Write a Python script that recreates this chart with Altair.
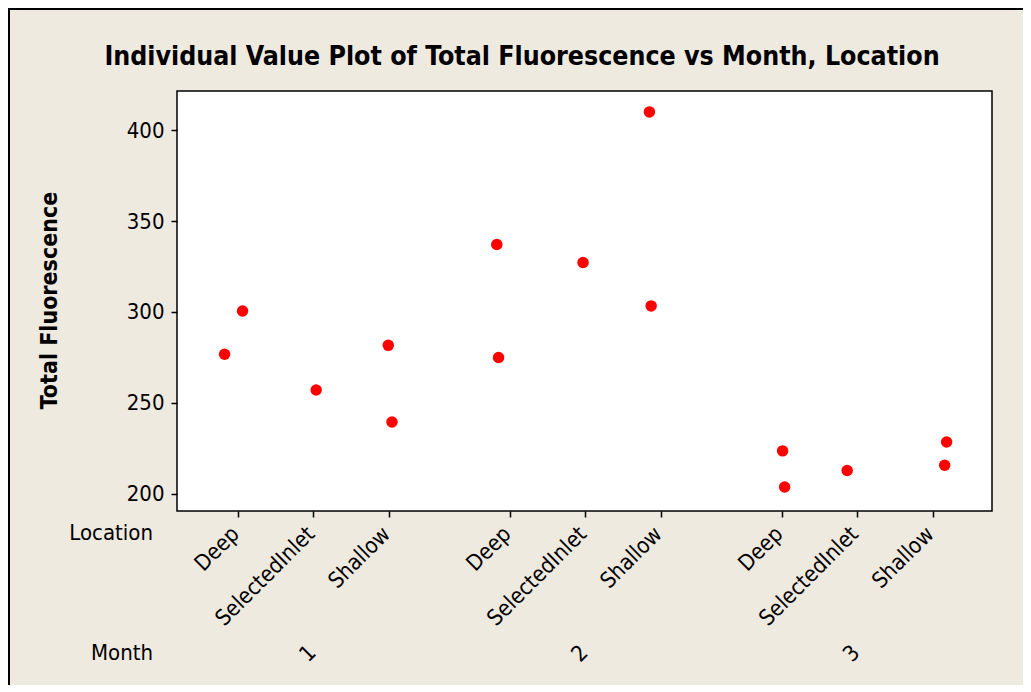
import altair as alt
import pandas as pd

# ---- data ----
months = [1, 2, 3]
locations = ["Deep", "SelectedInlet", "Shallow"]
obs_month = [1, 1, 1, 1, 1, 2, 2, 2, 2, 2, 3, 3, 3, 3, 3]
obs_location = ["Deep", "Deep", "SelectedInlet", "Shallow", "Shallow",
                "Deep", "Deep", "SelectedInlet", "Shallow", "Shallow",
                "Deep", "Deep", "SelectedInlet", "Shallow", "Shallow"]
fluorescence = [276.7, 300.5, 257.0, 281.6, 239.4,
                337.1, 274.9, 327.2, 410.1, 303.3,
                223.5, 203.6, 212.7, 228.4, 215.6]
# horizontal jitter of each point (in category-slot units), as seen in the plot
jitter = [-0.177, 0.061, 0.036, -0.009, 0.040,
          -0.172, -0.149, -0.030, -0.151, -0.128,
          0.013, 0.040, -0.132, 0.185, 0.159]
y_ticks = [200, 250, 300, 350, 400]

TITLE = "Individual Value Plot of Total Fluorescence vs Month, Location"
Y_TITLE = "Total Fluorescence"

# ---- layout helpers ----
STEP = 3.6  # slots per month group (3 locations + gap)
FONT = "DejaVu Sans Condensed, Tahoma, DejaVu Sans"
BG = "#EEEAE0"
W, H = 815, 420
PAD = {"left": 169, "top": 83, "right": 31, "bottom": 174}
FS = 22


def slot(m, loc):
    return round((m - 1) * STEP + locations.index(loc), 3)


df = pd.DataFrame({"Month": obs_month, "Location": obs_location,
                   "Fluorescence": fluorescence, "jitter": jitter})
df["slot"] = [slot(m, l) for m, l in zip(df["Month"], df["Location"])]
df["xpos"] = df["slot"] + df["jitter"]

tick_vals = [slot(m, l) for m in months for l in locations]
label_map = ",".join(f"'{int(round(v * 10))}':'{l}'"
                     for v, l in zip(tick_vals, [l for m in months for l in locations]))
label_expr = "{" + label_map + "}[round(datum.value*10)]"

xscale = alt.Scale(domain=[-0.807, 9.986], nice=False, zero=False)
yscale = alt.Scale(domain=[190.4, 421.6], nice=False, zero=False)

points = alt.Chart(df).mark_circle(size=132, color="#FF0000", opacity=1).encode(
    x=alt.X("xpos:Q", scale=xscale, title=None,
            axis=alt.Axis(values=tick_vals, labelExpr=label_expr, grid=False,
                          domain=False, tickColor="black", tickWidth=1.5, tickSize=6,
                          labelAngle=315, labelAlign="right", labelBaseline="middle",
                          labelPadding=13, labelOffset=-3, labelFont=FONT,
                          labelFontSize=FS, labelColor="black", labelBound=False,
                          labelFlush=False, labelOverlap=False)),
    y=alt.Y("Fluorescence:Q", scale=yscale, title=Y_TITLE,
            axis=alt.Axis(values=y_ticks, grid=False, domain=False, tickColor="black",
                          tickWidth=1.5, tickSize=6, labelPadding=7, labelFont=FONT,
                          labelFontSize=FS, labelColor="black", titleFont=FONT,
                          titleFontSize=23, titleFontWeight="bold", titleColor="black",
                          titleX=-128, titleY=209, titleBaseline="middle",
                          titleAnchor="middle")),
)

month_df = pd.DataFrame({"Month": [str(m) for m in months],
                         "mid": [slot(m, locations[1]) for m in months]})
month_text = alt.Chart(month_df).mark_text(
    angle=315, font=FONT, fontSize=FS, color="black", align="center",
    baseline="middle", dx=-8
).encode(x=alt.X("mid:Q", scale=xscale), y=alt.value(557), text="Month:N")

row_df = pd.DataFrame({"label": ["Location", "Month"], "ypix": [442, 562]})
row_text = alt.Chart(row_df).mark_text(
    font=FONT, fontSize=FS, color="black", align="right", baseline="middle"
).encode(x=alt.value(-24), y=alt.Y("ypix:Q", scale=None), text="label:N")

title_df = pd.DataFrame({"t": [TITLE]})
title_text = alt.Chart(title_df).mark_text(
    font=FONT, fontSize=26.5, fontWeight="bold", color="black", align="center",
    baseline="middle"
).encode(x=alt.value(345), y=alt.value(-34), text="t:N")

frame_top = alt.Chart(row_df).mark_rule(color="black", strokeWidth=2).encode(
    x=alt.value(-169), x2=alt.value(W + PAD["right"]), y=alt.value(-82))
frame_left = alt.Chart(row_df).mark_rule(color="black", strokeWidth=2).encode(
    x=alt.value(-168), y=alt.value(-83), y2=alt.value(H + PAD["bottom"]))

chart = alt.layer(points, month_text, row_text, title_text, frame_top, frame_left).properties(
    width=W, height=H,
    autosize=alt.AutoSizeParams(type="none"),
    padding=PAD,
    background=BG,
).configure_view(fill="white", stroke="black", strokeWidth=1.5)

chart.save("out.html", embed_options={"renderer": "svg", "actions": False})
